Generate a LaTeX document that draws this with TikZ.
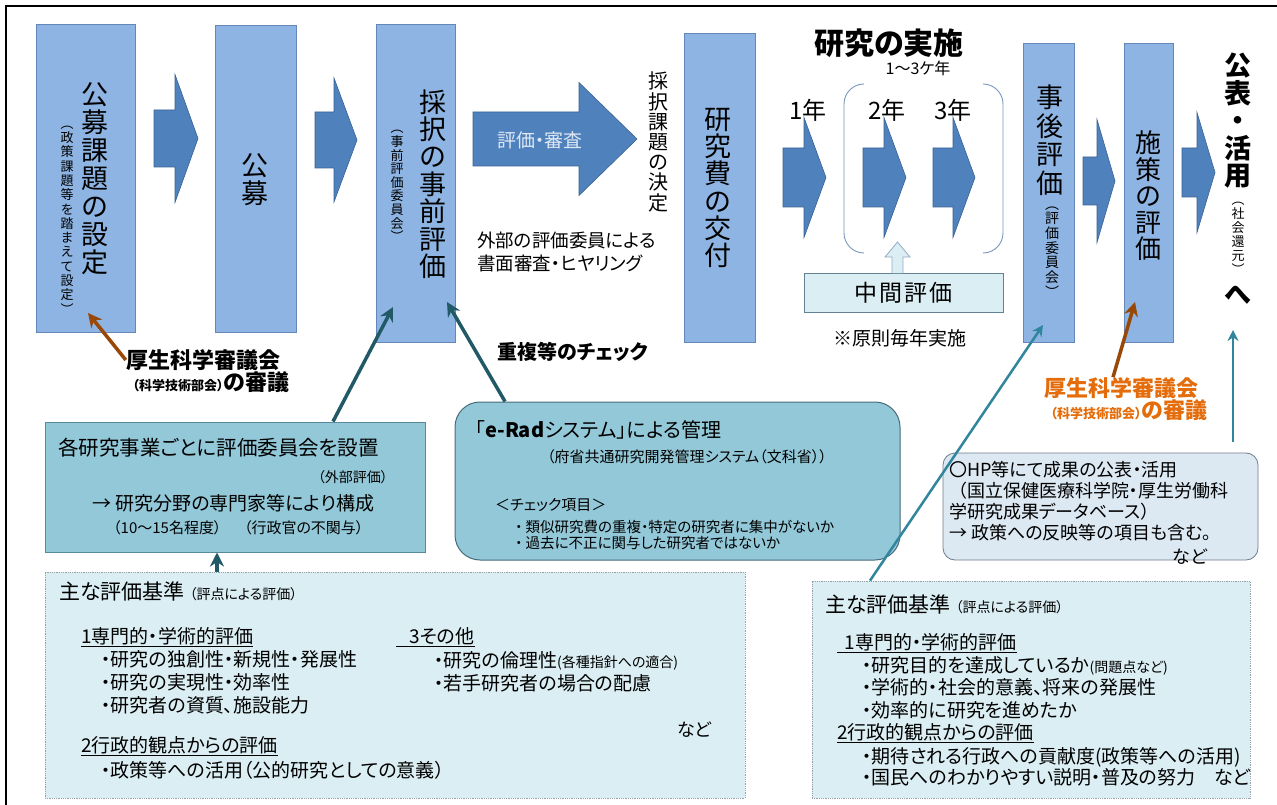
\documentclass[tikz,border=0pt]{standalone}
\usepackage{fontspec}
\setmainfont{Noto Sans CJK JP}[RawFeature=+palt]
\usetikzlibrary{arrows.meta}

\definecolor{vboxfill}{RGB}{141,180,226}
\definecolor{vboxline}{RGB}{100,135,185}
\definecolor{blkfill}{RGB}{79,129,189}
\definecolor{blkline}{RGB}{58,98,148}
\definecolor{infofill}{RGB}{147,200,216}
\definecolor{infoline}{RGB}{88,138,158}
\definecolor{eradline}{RGB}{70,108,122}
\definecolor{palefill}{RGB}{219,238,243}
\definecolor{paleline}{RGB}{150,160,168}
\definecolor{hpfill}{RGB}{220,232,242}
\definecolor{hpline}{RGB}{110,125,140}
\definecolor{chukanline}{RGB}{100,130,150}
\definecolor{tealDark}{RGB}{33,89,103}
\definecolor{tealLight}{RGB}{49,133,156}
\definecolor{brownArr}{RGB}{152,72,7}
\definecolor{orangeTxt}{RGB}{228,108,10}
\definecolor{bracketCol}{RGB}{120,150,185}
\definecolor{lightTxt}{RGB}{222,232,244}

\newcommand{\fsz}[2]{\fontsize{#1pt}{#2pt}\selectfont\lineskiplimit=-20pt\relax}
% x0, head start, tip, centre y, half shaft, half head
\newcommand{\blkarrow}[6]{\draw[blk] (#1,#4-#5) -- (#2,#4-#5) -- (#2,#4-#6) -- (#3,#4) -- (#2,#4+#6) -- (#2,#4+#5) -- (#1,#4+#5) -- cycle;}

\begin{document}
\begin{tikzpicture}[x=1pt,y=-1pt]
	\tikzstyle{vbox}=[draw=vboxline,fill=vboxfill,line width=0.8pt,inner sep=0pt]
	\tikzstyle{vtext}=[align=center,inner sep=0pt]
	\tikzstyle{blk}=[draw=blkline,fill=blkfill,line width=0.6pt]
	\tikzstyle{txt}=[inner sep=0pt,anchor=west,align=left]
	\tikzstyle{infobox}=[draw=infoline,fill=infofill,line width=1pt,inner sep=0pt]
	\tikzstyle{palebox}=[draw=paleline,fill=palefill,densely dotted,line width=0.8pt,inner sep=0pt]
	\tikzstyle{darkarr}=[draw=tealDark,line width=3.5pt,-{Stealth[length=14pt,width=14pt]}]
	\tikzstyle{lightarr}=[draw=tealLight,line width=2.5pt,-{Stealth[length=11pt,width=11pt]}]
	\tikzstyle{brownarr}=[draw=brownArr,line width=3.5pt,-{Stealth[length=14pt,width=14pt]}]
	
	\useasboundingbox (0,0) rectangle (1277,805);
	\draw[line width=1.6pt] (6,805) -- (6,6) -- (1277,6);
	
	% steps of the flow
	\node[vbox,minimum width=99pt,minimum height=308pt](settei) at (85.5,178){};
	\node[vbox,minimum width=81pt,minimum height=307pt](kobo) at (255.5,178.5){};
	\node[vbox,minimum width=79pt,minimum height=318pt](jizen) at (415.5,183){};
	\node[vbox,minimum width=71pt,minimum height=309pt](kofu) at (719.5,187.5){};
	\node[vbox,minimum width=51pt,minimum height=299pt](jigo) at (1048.5,192.5){};
	\node[vbox,minimum width=49pt,minimum height=299pt](shisaku) at (1148.5,192.5){};
	
	\node[vtext,font=\fsz{27}{28}](setteiTxt) at (95,179){公\\募\\課\\題\\の\\設\\定};
	\node[vtext,font=\fsz{13}{14.3}](setteiSub) at (67,220){︵\\政\\策\\課\\題\\等\\を\\踏\\ま\\え\\て\\設\\定\\︶};
	\node[vtext,font=\fsz{27}{28}](koboTxt) at (255,180){公\\募};
	\node[vtext,font=\fsz{27}{27.4}](jizenTxt) at (433,184){採\\択\\の\\事\\前\\評\\価};
	\node[vtext,font=\fsz{13}{13.6}](jizenSub) at (397,186){︵\\事\\前\\評\\価\\委\\員\\会\\︶};
	\node[vtext,font=\fsz{27}{27.2}](kofuTxt) at (718,188){研\\究\\費\\の\\交\\付};
	\node[vtext,font=\fsz{27}{28.5}](jigoTxt) at (1050,140){事\\後\\評\\価};
	\node[vtext,font=\fsz{14}{14.7}](jigoSub) at (1052,252){︵\\評\\価\\委\\員\\会\\︶};
	\node[vtext,font=\fsz{26}{26.5}](shisakuTxt) at (1148,196){施\\策\\の\\評\\価};
	\node[vtext,font=\bfseries\fsz{27}{27.5}](kohyo) at (1238,121){公\\表\\・\\活\\用};
	\node[vtext,font=\fsz{13}{14}](kohyoSub) at (1238,238){︵\\社\\会\\還\\元\\︶};
	\node[vtext,font=\bfseries\fsz{27}{28}](kohyoHe) at (1238,295){へ};
	\node[vtext,font=\fsz{20}{20.2}](kettei) at (658,142){採\\択\\課\\題\\の\\決\\定};
	
	% block arrows
	\blkarrow{154}{175}{198}{138.5}{28.5}{64}
	\blkarrow{315}{334}{357}{140}{28}{62}
	\blkarrow{473}{579}{637}{139}{27}{56.5}
	\blkarrow{783}{804}{826}{177.5}{29.5}{60}
	\blkarrow{863}{884}{906}{177.5}{29.5}{60}
	\blkarrow{933}{953}{975}{177.5}{29.5}{60}
	\blkarrow{1083}{1097}{1115}{181}{24}{61.5}
	\blkarrow{1182}{1197}{1215}{172.5}{24.5}{60}
	\node[font=\fsz{19}{21},text=lightTxt](shinsa) at (540,140){評価・審査};
	
	% research period
	\node[font=\bfseries\fsz{30}{32}](jisshi) at (889,43){研究の実施};
	\node[font=\fsz{16}{18}](kikan) at (918,68){1〜3ケ年};
	\node[font=\fsz{24}{26}](yr1) at (808,110){1年};
	\node[font=\fsz{24}{26}](yr2) at (887,110){2年};
	\node[font=\fsz{24}{26}](yr3) at (953,110){3年};
	\draw[bracketCol,line width=0.9pt,rounded corners=20pt] (863,84) -- (844,84) -- (844,253) -- (863,253);
	\draw[bracketCol,line width=0.9pt,rounded corners=20pt] (985,84) -- (1003,84) -- (1003,253) -- (985,253);
	\node[draw=chukanline,fill=palefill,line width=0.8pt,minimum width=199pt,minimum height=39pt,inner sep=0pt,font=\fsz{23}{25}](chukan) at (903.5,292.5){中\hspace{2pt}間\hspace{2pt}評\hspace{2pt}価};
	\draw[draw=bracketCol!80,fill=palefill,line width=0.8pt] (892,273) -- (892,257) -- (885,257) -- (897.5,242) -- (910,257) -- (903,257) -- (903,273);
	\node[font=\fsz{19}{21}](gensoku) at (900,338){※原則毎年実施};
	
	\node[txt,font=\fsz{18.5}{23}](gaibu) at (477,251.5){外部の評価委員による\\書面審査・ヒヤリング};
	\node[txt,font=\bfseries\fsz{20}{22}](chofuku) at (497,352){重複等のチェック};
	
	\node[inner sep=0pt,font=\bfseries\fsz{22}{24}](shingi1) at (203,360){厚生科学審議会};
	\node[inner sep=0pt,font=\bfseries\fsz{22}{24}](shingi1b) at (211,382){{\fsz{13}{14}（科学技術部会）}の審議};
	\node[inner sep=0pt,text=orangeTxt,font=\bfseries\fsz{22}{24}](shingi2) at (1121,388){厚生科学審議会};
	\node[inner sep=0pt,text=orangeTxt,font=\bfseries\fsz{22}{24}](shingi2b) at (1129,410){{\fsz{13}{14}（科学技術部会）}の審議};
	
	% committees and check system
	\node[infobox,minimum width=380pt,minimum height=130pt](kakuken) at (235,487){};
	\node[txt,font=\fsz{20.5}{22}](kkT1) at (58,448){各研究事業ごとに評価委員会を設置};
	\node[inner sep=0pt,anchor=east,font=\fsz{14}{16}](kkT2) at (388,477){（外部評価）};
	\node[txt,font=\fsz{19}{21}](kkT3) at (92,503){→\ 研究分野の専門家等により構成};
	\node[txt,font=\fsz{15}{17}](kkT4) at (113,528){（10〜15名程度）\hspace{1.5em}（行政官の不関与）};
	
	\node[infobox,draw=eradline,rounded corners=25pt,minimum width=445pt,minimum height=158pt](erad) at (677.5,481){};
	\node[txt,font=\fsz{20}{22}](erT1) at (475,430){「\textbf{e-Rad}システム」による管理};
	\node[txt,font=\fsz{15}{17}](erT2) at (547,457){（府省共通研究開発管理システム（文科省））};
	\node[txt,font=\fsz{15}{17}](erT3) at (495,505){＜チェック項目＞};
	\node[txt,font=\fsz{14.5}{16.5}](erT4) at (515,535){・\ 類似研究費の重複・特定の研究者に集中がないか\\・\ 過去に不正に関与した研究者ではないか};
	
	\node[draw=hpline,fill=hpfill,line width=0.8pt,rounded corners=12pt,inner sep=0pt,minimum width=315pt,minimum height=107pt](hp) at (1100.5,506.5){};
	\node[txt,font=\fsz{18}{21}](hpT) at (949,501.5){〇HP等にて成果の公表・活用\\\hspace{0.5em}（国立保健医療科学院・厚生労働科\\学研究成果データベース）\\→\ 政策への反映等の項目も含む。};
	\node[font=\fsz{18}{20},inner sep=0pt](hpEtc) at (1190,557){など};
	
	% criteria
	\node[palebox,minimum width=700pt,minimum height=226pt](kijun1) at (395,685){};
	\node[txt,font=\fsz{21}{23}](kj1Head) at (59,591){主な評価基準\ {\fsz{14}{16}（評点による評価）}};
	\node[txt,font=\fsz{19}{21}](kj1A) at (81,637){\underline{1専門的・学術的評価}};
	\node[txt,font=\fsz{19}{23}](kj1AList) at (101,682.5){・研究の独創性・新規性・発展性\\・研究の実現性・効率性\\・研究者の資質、施設能力};
	\node[txt,font=\fsz{19}{21}](kj1B) at (81,746){\underline{2行政的観点からの評価}};
	\node[txt,font=\fsz{19}{21}](kj1BList) at (101,770){・政策等への活用（公的研究としての意義）};
	\node[txt,font=\fsz{19}{21}](kj1C) at (396,637){\underline{\hspace{0.7em}3その他}};
	\node[txt,font=\fsz{19}{23}](kj1CList) at (434,671.5){・研究の倫理性{\fsz{14}{16}(各種指針への適合)}\\・若手研究者の場合の配慮};
	\node[txt,font=\fsz{18}{20}](kj1Etc) at (677,730){など};
	
	\node[palebox,minimum width=438pt,minimum height=217pt](kijun2) at (1031,689.5){};
	\node[txt,font=\fsz{21}{23}](kj2Head) at (825,604){主な評価基準\ {\fsz{14}{16}（評点による評価）}};
	\node[txt,font=\fsz{19}{21}](kj2A) at (837,643){\underline{\hspace{0.4em}1専門的・学術的評価}};
	\node[txt,font=\fsz{19}{22.5}](kj2AList) at (862,687.5){・研究目的を達成しているか{\fsz{14}{16}(問題点など)}\\・学術的・社会的意義、将来の発展性\\・効率的に研究を進めたか};
	\node[txt,font=\fsz{19}{21}](kj2B) at (837,733){\underline{2行政的観点からの評価}};
	\node[txt,font=\fsz{19}{21}](kj2BList) at (862,767){・期待される行政への貢献度(政策等への活用)\\・国民へのわかりやすい説明・普及の努力\hspace{1em}など};
	
	% tips inside the steps
	\coordinate (setteiTip) at (88,313);
	\coordinate (jizenTip1) at (393,307);
	\coordinate (jizenTip2) at (447,302);
	\coordinate (jigoTip) at (1043,325);
	\coordinate (shisakuTip) at (1135,302);
	\coordinate (kohyoTip) at (1233,330);
	
	\draw[brownarr] (shingi1.west) -- (setteiTip);
	\draw[brownarr] ([xshift=-8pt]shingi2.north) -- (shisakuTip);
	\draw[darkarr] ([xshift=98pt]kakuken.north) -- (jizenTip1);
	\draw[darkarr] ([xshift=-172.5pt]erad.north) -- (jizenTip2);
	\draw[darkarr] ([xshift=-178pt]kijun1.north) -- ([xshift=-18pt]kakuken.south);
	\draw[lightarr] ([xshift=-161pt]kijun2.north) -- (jigoTip);
	\draw[lightarr] ([shift={(132.5pt,11pt)}]hp.north) -- (kohyoTip);
	
\end{tikzpicture}
\end{document}
